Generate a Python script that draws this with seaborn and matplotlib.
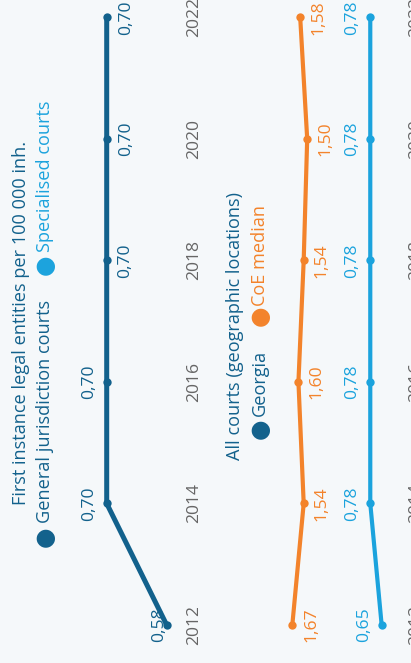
import seaborn as sns
import matplotlib.pyplot as plt

# data (values per 100 000 inh.)
years = [2012, 2014, 2016, 2018, 2020, 2022]
general_courts = [0.58, 0.70, 0.70, 0.70, 0.70, 0.70]
georgia_all = [0.65, 0.78, 0.78, 0.78, 0.78, 0.78]
coe_median = [1.67, 1.54, 1.60, 1.54, 1.50, 1.58]

# label offsets in pixels (positive = to the right on the rotated chart)
general_offsets = [-8, -18, -18, 18, 19, 19]
georgia_offsets = [-18, -18, -18, -18, -18, -18]
coe_offsets = [19, 18, 18, 18, 18, 18]

DARK = "#12618c"
LIGHT = "#1ba3dd"
ORANGE = "#f3832b"
GREY = "#666666"
BG = "#f5f8fa"

sns.set_theme(style="white")
plt.rcParams["font.family"] = ["Open Sans", "DejaVu Sans"]

W, H = 411, 663
fig = plt.figure(figsize=(W / 100, H / 100), dpi=100, facecolor=BG)


def px_axes(x0, x1):
    return fig.add_axes([x0 / W, 0, (x1 - x0) / W, 1])


def fig_text(x, y, s, **kw):
    fig.text(x / W, 1 - y / H, s, rotation=90, **kw)


def label(v):
    return f"{v:.2f}".replace(".", ",")


# year axis: 2012 at y=625 px, 60.77 px per year (top origin)
ylim = (2012 - (H - 625) / 60.77, 2012 + 625 / 60.77)
NUM_FS = 12.6


def style_ax(ax, pad):
    ax.set_facecolor(BG)
    for s in ax.spines.values():
        s.set_visible(False)
    ax.set_ylim(*ylim)
    ax.set_yticks(years)
    ax.set_xticks([])
    ax.set_xlabel("")
    ax.set_ylabel("")
    ax.tick_params(axis="y", left=False, right=False, labelleft=False,
                   labelright=True, pad=pad, labelsize=NUM_FS, labelcolor=GREY)
    for t in ax.get_yticklabels():
        t.set_rotation(90)
        t.set_va("center")


def add_labels(ax, vals, offs, color):
    for yr, v, o in zip(years, vals, offs):
        ax.annotate(label(v), (v, yr), xytext=(o, 0), textcoords="offset pixels",
                    rotation=90, ha="center", va="center", fontsize=NUM_FS, color=color)


# left panel: value v -> px = 456.7 - 500 v
ax1 = px_axes(0, 174)
sns.lineplot(x=general_courts, y=years, orient="y", ax=ax1, color=DARK,
             linewidth=3.6, marker="o", markersize=6, markeredgewidth=0)
ax1.set_xlim((456.7 - 0) / 500, (456.7 - 174) / 500)
style_ax(ax1, 3)
add_labels(ax1, general_courts, general_offsets, DARK)

# right panel: value v -> px = 438.6 - 87.6 v
ax2 = px_axes(205, 393)
sns.lineplot(x=coe_median, y=years, orient="y", ax=ax2, color=ORANGE,
             linewidth=3, marker="o", markersize=6, markeredgewidth=0)
sns.lineplot(x=georgia_all, y=years, orient="y", ax=ax2, color=LIGHT,
             linewidth=3, marker="o", markersize=6, markeredgewidth=0)
ax2.set_xlim((438.6 - 205) / 87.6, (438.6 - 393) / 87.6)
style_ax(ax2, 5)
add_labels(ax2, coe_median, coe_offsets, ORANGE)
add_labels(ax2, georgia_all, georgia_offsets, LIGHT)
for ax in (ax1, ax2):
    for ln in ax.lines:
        ln.set_clip_on(False)

# titles and legends
fs = 13.1
dot = dict(fontsize=17, ha="center", va="center", family=["DejaVu Sans"])
fig_text(21, 505, "First instance legal entities per 100 000 inh.", color=DARK,
         fontsize=fs, ha="center", va="bottom")
fig_text(45, 537, "●", color=DARK, **dot)
fig_text(45, 523, "General jurisdiction courts", color=DARK, fontsize=fs,
         ha="center", va="bottom")
fig_text(45, 265, "●", color=LIGHT, **dot)
fig_text(45, 252, "Specialised courts", color=LIGHT, fontsize=fs,
         ha="center", va="bottom")

fig_text(235, 460, "All courts (geographic locations)", color=DARK,
         fontsize=fs, ha="center", va="bottom")
fig_text(260, 429, "●", color=DARK, **dot)
fig_text(260, 416, "Georgia", color=DARK, fontsize=fs, ha="center", va="bottom")
fig_text(260, 316, "●", color=ORANGE, **dot)
fig_text(260, 306, "CoE median", color=ORANGE, fontsize=fs, ha="center", va="bottom")

fig.savefig("out.png", dpi=100, facecolor=BG)
